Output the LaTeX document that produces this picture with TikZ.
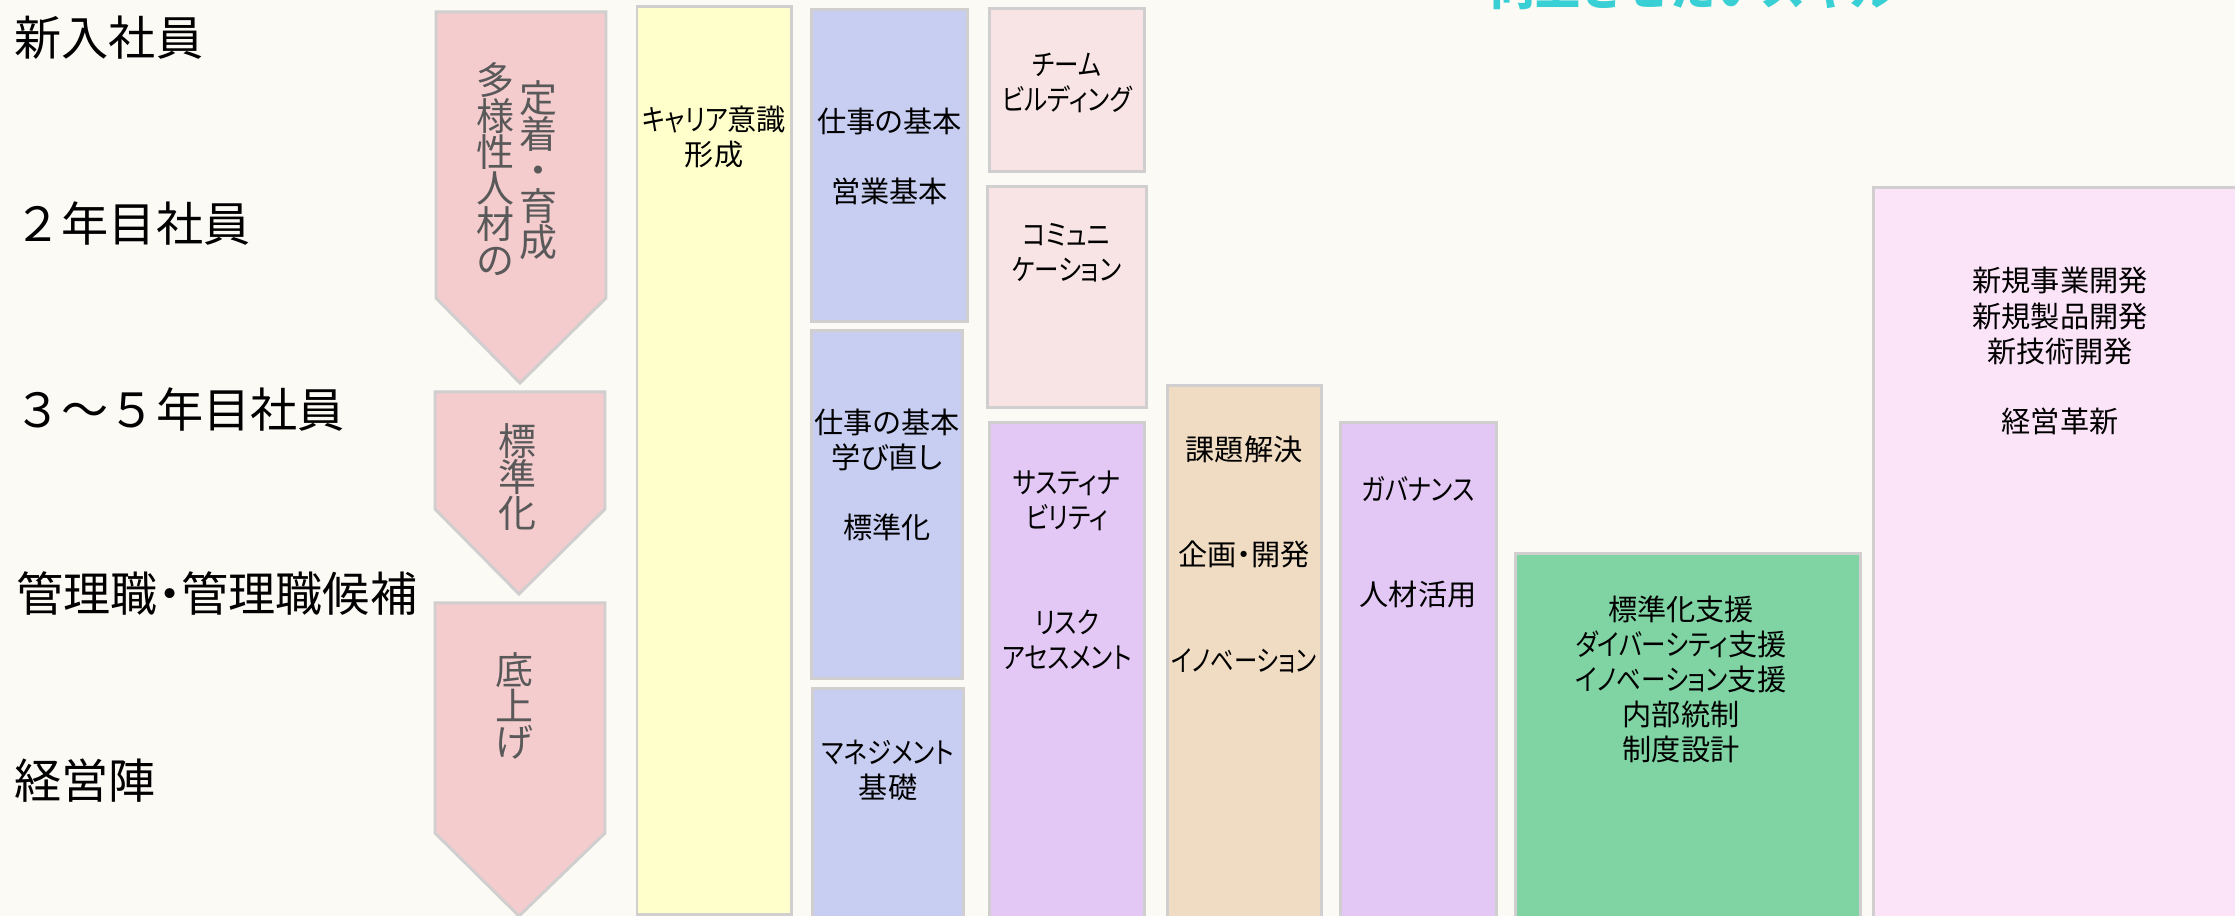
\documentclass[tikz,border=0pt]{standalone}
\usepackage{graphicx}
\usepackage{fontspec}
\setmainfont[RawFeature=+palt]{Noto Sans CJK JP}
\newfontfamily\jpfull{Noto Sans CJK JP}
\definecolor{bgc}{HTML}{FCFAF5}
\definecolor{arrowpink}{HTML}{F5CCCE}
\definecolor{bordergray}{HTML}{D0CECE}
\definecolor{yellowbox}{HTML}{FFFFCC}
\definecolor{bluebox}{HTML}{C8CEF2}
\definecolor{pinkbox}{HTML}{F8E4E4}
\definecolor{purplebox}{HTML}{E3C8F6}
\definecolor{tanbox}{HTML}{F0DCC2}
\definecolor{greenbox}{HTML}{80D4A4}
\definecolor{lavbox}{HTML}{FBE3F8}
\definecolor{arrowgray}{HTML}{595959}
\definecolor{titlecyan}{HTML}{38D0D4}
\newcommand\myarrowfont{\fontsize{10.8pt}{10.24pt}\selectfont\lineskiplimit=-20pt\relax}
\newcommand\kn[1]{\scalebox{0.84}[1]{#1}}
\newcommand\knn[1]{\scalebox{0.8}[1]{#1}}
\begin{document}
\begin{tikzpicture}[x=0.01cm,y=-0.01cm,
  bx/.style={draw=bordergray, line width=0.85pt},
  lbl/.style={anchor=west, inner sep=0pt, font=\jpfull\fontsize{13.4pt}{16pt}\selectfont},
  btxt/.style={align=center, inner sep=0pt, font=\fontsize{8.3pt}{9.96pt}\selectfont},
  atxt/.style={align=center, inner sep=0pt, text=arrowgray, font=\myarrowfont},
]
\useasboundingbox (0,0) rectangle (2235,916);
\begin{scope}
\clip (0,0) rectangle (2235,916);
\fill[bgc] (0,0) rectangle (2235,916);

% title remnant (cut off at top, as in the reference)
\node[anchor=base west, inner sep=0pt, text=titlecyan, font=\jpfull\bfseries\fontsize{12.8pt}{14pt}\selectfont] (title) at (1490,6) {向上させたいスキル};

% left labels
\node[lbl] (l1) at (14,38) {新入社員};
\node[lbl] (l2) at (14,224) {２年目社員};
\node[lbl] (l3) at (14,410) {３～５年目社員};
\node[lbl, font=\fontsize{13.4pt}{16pt}\selectfont] (l4) at (16,594) {管理職・管理職候補};
\node[lbl] (l5) at (14,781) {経営陣};

% arrows
\path[bx, fill=arrowpink] (436,12) -- (606,12) -- (606,298) -- (520,383) -- (436,298) -- cycle;
\path[bx, fill=arrowpink] (435,392) -- (605,392) -- (605,509) -- (519,594) -- (435,509) -- cycle;
\path[bx, fill=arrowpink] (435,603) -- (605,603) -- (605,833) -- (519,916) -- (435,833) -- cycle;
\node[atxt] (a1r) at (538,170) {定\\着\\・\\育\\成};
\node[atxt] (a1l) at (495,169) {多\\様\\性\\人\\材\\の};
\node[atxt] (a2) at (517,477) {標\\準\\化};
\node[atxt] (a3) at (514,706) {底\\上\\げ};

% boxes
\path[bx, fill=yellowbox] (637,7) rectangle (791,914.5);
\path[bx, fill=bluebox] (811.5,10) rectangle (967.5,322);
\path[bx, fill=bluebox] (811.5,331) rectangle (962.5,679);
\path[bx, fill=bluebox] (812.5,689) rectangle (963,930);
\path[bx, fill=pinkbox] (989,9) rectangle (1144.5,172);
\path[bx, fill=pinkbox] (987,187) rectangle (1146,408);
\path[bx, fill=purplebox] (989,423) rectangle (1144.5,930);
\path[bx, fill=tanbox] (1167,386) rectangle (1321.5,930);
\path[bx, fill=purplebox] (1340,423) rectangle (1496.5,930);
\path[bx, fill=greenbox] (1515,554) rectangle (1860.5,930);
\path[bx, fill=lavbox] (1873,188) rectangle (2260,930);

% box texts
\node[btxt] (t1) at (714,137) {\kn{キャリア}意識\\形成};
\node[btxt] (t2) at (889.5,156.5) {仕事の基本\\\mbox{}\\営業基本};
\node[btxt] (t3) at (887,474.5) {仕事の基本\\学び直し\\\mbox{}\\標準化};
\node[btxt] (t4) at (888,770.5) {\kn{マネジメント}\\基礎};
\node[btxt] (t5) at (1067,83) {\kn{チーム}\\\kn{ビルディング}};
\node[btxt] (t6) at (1066.5,253) {\kn{コミュニ}\\\kn{ケーション}};
\node[btxt] (t7) at (1067,570) {\kn{サスティナ}\\\kn{ビリティ}\\\mbox{}\\\mbox{}\\\kn{リスク}\\\kn{アセスメント}};
\node[btxt] (t8) at (1244,554.5) {課題解決\\\mbox{}\\\mbox{}\\企画・開発\\\mbox{}\\\mbox{}\\\knn{イノベーション}};
\node[btxt] (t9) at (1418,542) {\kn{ガバナンス}\\\mbox{}\\\mbox{}\\人材活用};
\node[btxt] (t10) at (1681,679.5) {標準化支援\\\kn{ダイバーシティ}支援\\\kn{イノベーション}支援\\内部統制\\制度設計};
\node[btxt] (t11) at (2060,351) {新規事業開発\\新規製品開発\\新技術開発\\\mbox{}\\経営革新};
\end{scope}
\end{tikzpicture}
\end{document}
